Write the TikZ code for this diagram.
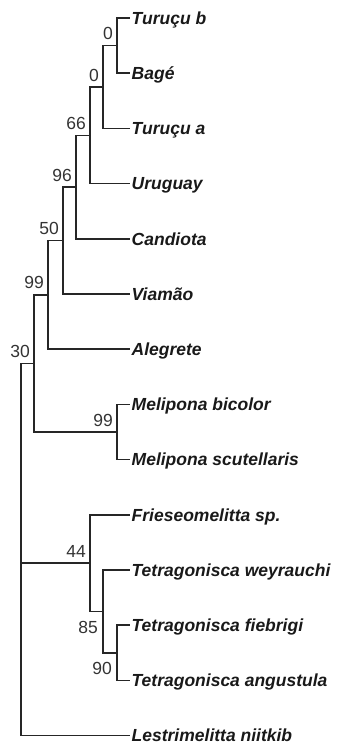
\documentclass[tikz,border=0pt]{standalone}
\usepackage{fontspec}
\setmainfont{Liberation Sans}
\begin{document}
\begin{tikzpicture}[x=1pt,y=-1pt,
  branch/.style={draw=black!85,line width=1.5pt,line cap=rect},
  taxon/.style={anchor=west,inner xsep=2.5pt,inner ysep=0pt,text height=12.5pt,text depth=0pt,
    font=\fontsize{17.5}{19}\selectfont\bfseries\itshape,text=black!90},
  bs/.style={anchor=base east,inner sep=0pt,font=\fontsize{17.5}{19}\selectfont,text=black!80},
  bsup/.style={bs,xshift=-4pt,yshift=6pt},
  bsdown/.style={bs,xshift=-5pt,yshift=-22pt}]
\useasboundingbox (0,0) rectangle (338,744);
% tips
\node[taxon] (t1) at (129,18) {Turuçu b};
\node[taxon] (t2) at (129,73.2) {Bagé};
\node[taxon] (t3) at (129,128.4) {Turuçu a};
\node[taxon] (t4) at (129,183.6) {Uruguay};
\node[taxon] (t5) at (129,238.8) {Candiota};
\node[taxon] (t6) at (129,294) {Viamão};
\node[taxon] (t7) at (129,349.2) {Alegrete};
\node[taxon] (t8) at (129,404.4) {Melipona bicolor};
\node[taxon] (t9) at (129,459.6) {Melipona scutellaris};
\node[taxon] (t10) at (129,514.8) {Frieseomelitta sp.};
\node[taxon] (t11) at (129,570) {Tetragonisca weyrauchi};
\node[taxon] (t12) at (129,625.2) {Tetragonisca fiebrigi};
\node[taxon] (t13) at (129,680.4) {Tetragonisca angustula};
\node[taxon] (t14) at (129,735.6) {Lestrimelitta niitkib};
% internal nodes
\coordinate (n1) at (117,45.6);
\coordinate (n2) at (103,87);
\coordinate (n3) at (90,135.3);
\coordinate (n4) at (76,187);
\coordinate (n5) at (63,240.5);
\coordinate (n6) at (48,294.9);
\coordinate (n7) at (117,432);
\coordinate (n8) at (34,363.5);
\coordinate (n9) at (117,652.8);
\coordinate (n10) at (103,611.4);
\coordinate (n11) at (90,563.1);
\coordinate (root) at (21,563.1);
% branches
\draw[branch] (n1) |- (t1.west);
\draw[branch] (n1) |- (t2.west);
\draw[branch] (n2) |- (n1);
\draw[branch] (n2) |- (t3.west);
\draw[branch] (n3) |- (n2);
\draw[branch] (n3) |- (t4.west);
\draw[branch] (n4) |- (n3);
\draw[branch] (n4) |- (t5.west);
\draw[branch] (n5) |- (n4);
\draw[branch] (n5) |- (t6.west);
\draw[branch] (n6) |- (n5);
\draw[branch] (n6) |- (t7.west);
\draw[branch] (n7) |- (t8.west);
\draw[branch] (n7) |- (t9.west);
\draw[branch] (n8) |- (n6);
\draw[branch] (n8) |- (n7);
\draw[branch] (n9) |- (t12.west);
\draw[branch] (n9) |- (t13.west);
\draw[branch] (n10) |- (t11.west);
\draw[branch] (n10) |- (n9);
\draw[branch] (n11) |- (t10.west);
\draw[branch] (n11) |- (n10);
\draw[branch] (root) |- (n8);
\draw[branch] (root) |- (t14.west);
\draw[branch] (root) -- (n11);
% support values
\node[bsup] (b1) at (n1) {0};
\node[bsup] (b2) at (n2) {0};
\node[bsup] (b3) at (n3) {66};
\node[bsup] (b4) at (n4) {96};
\node[bsup] (b5) at (n5) {50};
\node[bsup] (b6) at (n6) {99};
\node[bsup] (b7) at (n7) {99};
\node[bsup] (b8) at (n8) {30};
\node[bsup] (b11) at (n11) {44};
\node[bsdown] (b10) at (n10) {85};
\node[bsdown] (b9) at (n9) {90};
\end{tikzpicture}
\end{document}
